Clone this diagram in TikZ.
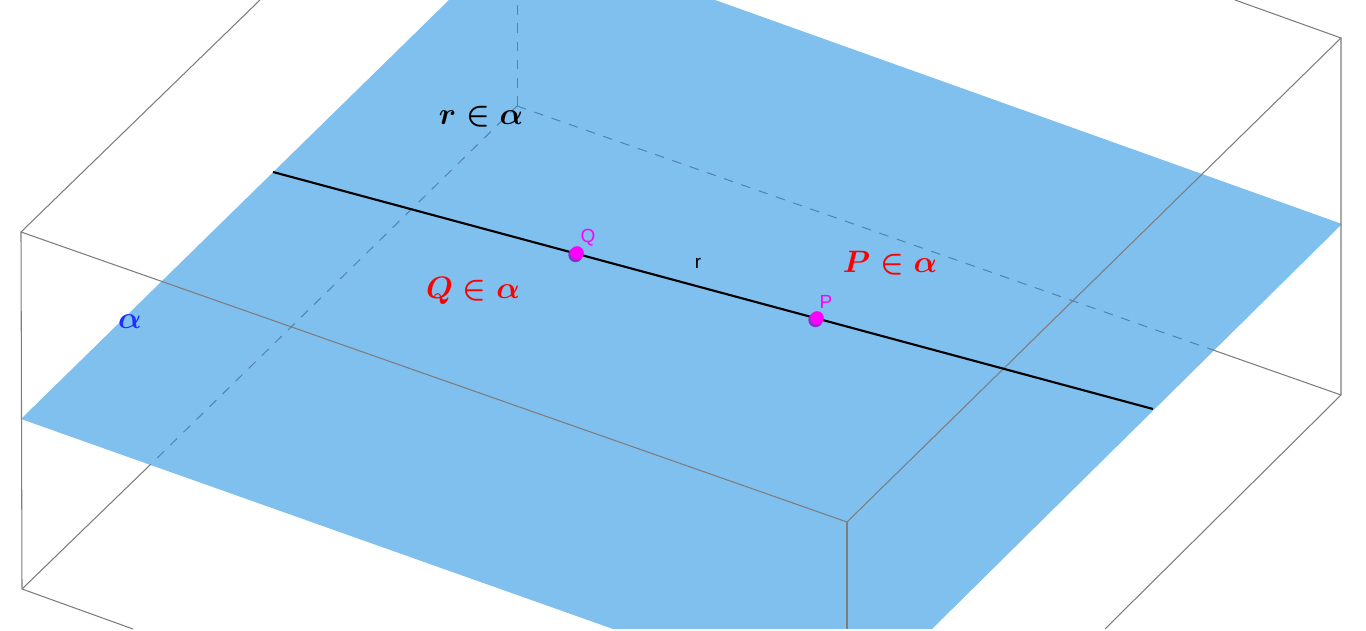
\documentclass[tikz,border=0pt]{standalone}
\usepackage{fontspec}
\usepackage{amsmath}
\usepackage{graphicx}
\setsansfont{Liberation Sans}
\definecolor{planeblue}{RGB}{128,192,238}
\definecolor{boxgray}{RGB}{125,125,125}
\definecolor{hiddenblue}{RGB}{80,130,172}
\definecolor{pointrim}{RGB}{130,50,200}
\definecolor{pointpink}{RGB}{255,0,255}
\definecolor{alphablue}{RGB}{30,50,255}
\definecolor{labelred}{RGB}{255,0,0}
\newcommand{\planelabel}[1]{\scalebox{0.88}{$\boldsymbol{#1}$}}
\begin{document}
\begin{tikzpicture}[
	x=0.01cm, y=-0.01cm,
	boxedge/.style={color=boxgray, line width=0.3pt},
	hiddenedge/.style={color=hiddenblue, line width=0.28pt, dash pattern=on 2.7pt off 2.5pt},
	ptlabel/.style={font=\sffamily\fontsize{5.4}{6}\selectfont, text=pointpink, inner sep=0pt}
	]
	\useasboundingbox (0, 0) rectangle (1366, 631);

	% corners of the box
	\coordinate (backbottom) at (517, 106);
	\coordinate (backtop) at (517, 0);
	\coordinate (leftbottom) at (22, 589);
	\coordinate (lefttop) at (21, 232);
	\coordinate (rightbottom) at (1341, 395);
	\coordinate (righttop) at (1341, 38);
	\coordinate (fronttop) at (847, 522);
	\coordinate (frontcut) at (847, 629);

	% plane
	\fill [planeblue] (21, 419) -- (449, 0) -- (715, 0) -- (1342, 224) -- (932, 629) -- (613, 629) -- cycle;

	% hidden edges
	\coordinate (enterleft) at (150, 465);
	\coordinate (enterright) at (1213, 350);
	\draw [hiddenedge] (backbottom) -- (backtop);
	\draw [hiddenedge] (backbottom) -- (enterleft);
	\draw [hiddenedge] (backbottom) -- (enterright);
	\draw [boxedge] (enterleft) -- (leftbottom);
	\draw [boxedge] (enterright) -- (rightbottom);

	% visible edges
	\coordinate (cutleft) at (260, 0);
	\coordinate (cutright) at (1235, 0);
	\coordinate (cutbottomleft) at (133, 629);
	\coordinate (cutbottomright) at (1105, 629);
	\draw [boxedge] (cutleft) -- (lefttop) -- (leftbottom) -- (cutbottomleft);
	\draw [boxedge] (lefttop) -- (fronttop) -- (righttop) -- (cutright);
	\draw [boxedge] (righttop) -- (rightbottom) -- (cutbottomright);
	\draw [boxedge, line width=0.35pt] (fronttop) -- (frontcut);

	% line r
	\coordinate (rstart) at (273, 172);
	\coordinate (rend) at (1153, 409);
	\draw [black, line width=0.6pt] (rstart) -- (rend);

	% points
	\fill [pointrim] (575.5, 255) circle (7.2) coordinate (Q);
	\fill [pointpink] (577, 253) circle (6.8);
	\fill [pointrim] (815.5, 320) circle (7.2) coordinate (P);
	\fill [pointpink] (817, 318) circle (6.8);

	\node (Qlabel) at (588, 238) [ptlabel] {Q};
	\node (Plabel) at (826, 302) [ptlabel] {P};
	\node (rlabel) at (698, 263) [ptlabel, text=black] {r};

	\node (rinalpha) at (481, 117) [text=black] {\planelabel{r\in\alpha}};
	\node (Qinalpha) at (473, 291) [text=labelred] {\planelabel{Q\in\alpha}};
	\node (Pinalpha) at (890, 263) [text=labelred] {\planelabel{P\in\alpha}};
	\node (alphalabel) at (130, 322) [text=alphablue] {\planelabel{\alpha}};
\end{tikzpicture}
\end{document}
